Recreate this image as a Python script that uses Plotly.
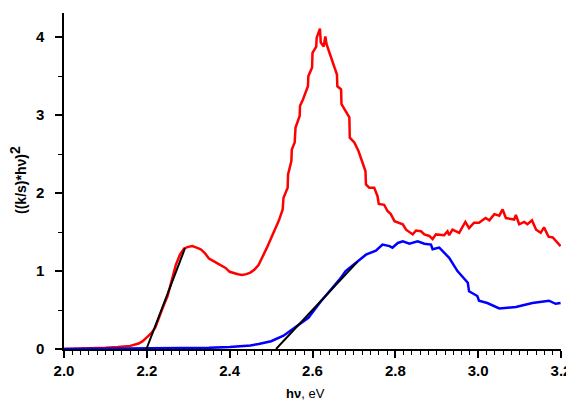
import plotly.graph_objects as go

# Red spectrum
red_x = [2.00, 2.05, 2.10, 2.13, 2.16, 2.18, 2.19, 2.20, 2.21, 2.22, 2.23, 2.24, 2.25, 2.26, 2.27, 2.28,
         2.29, 2.30, 2.31, 2.32, 2.33, 2.34, 2.35, 2.36, 2.37, 2.38, 2.39, 2.40, 2.41, 2.42, 2.43, 2.44,
         2.45, 2.46, 2.47, 2.48, 2.49, 2.50, 2.51, 2.519, 2.528, 2.530, 2.540, 2.541, 2.549, 2.550, 2.557,
         2.559, 2.569, 2.570, 2.577, 2.589, 2.590, 2.599, 2.600, 2.609, 2.610, 2.618, 2.620, 2.627, 2.631,
         2.634, 2.641, 2.648, 2.653, 2.659, 2.660, 2.669, 2.670, 2.680, 2.689, 2.690, 2.701, 2.711, 2.719,
         2.728, 2.729, 2.737, 2.749, 2.757, 2.760, 2.773, 2.781, 2.789, 2.798, 2.810, 2.818, 2.826, 2.842,
         2.850, 2.862, 2.870, 2.882, 2.890, 2.898, 2.918, 2.926, 2.930, 2.938, 2.954, 2.969, 2.978, 2.990,
         3.002, 3.018, 3.027, 3.039, 3.051, 3.059, 3.067, 3.087, 3.091, 3.099, 3.111, 3.119, 3.130, 3.140,
         3.151, 3.159, 3.170, 3.180, 3.199]
red_y = [0.00, 0.005, 0.015, 0.025, 0.04, 0.07, 0.10, 0.15, 0.20, 0.27, 0.42, 0.55, 0.68, 0.87, 1.08, 1.21,
         1.29, 1.31, 1.32, 1.30, 1.28, 1.23, 1.16, 1.13, 1.10, 1.07, 1.04, 0.99, 0.97, 0.96, 0.95, 0.96,
         0.98, 1.02, 1.08, 1.18, 1.30, 1.42, 1.53, 1.65, 1.79, 1.94, 2.07, 2.24, 2.41, 2.56, 2.65,
         2.84, 2.99, 3.12, 3.20, 3.37, 3.50, 3.61, 3.80, 3.88, 3.99, 4.11, 3.93, 3.88, 4.01,
         3.91, 3.80, 3.69, 3.63, 3.52, 3.37, 3.33, 3.14, 3.05, 2.97, 2.71, 2.65, 2.54, 2.41,
         2.28, 2.11, 2.07, 2.07, 1.96, 1.86, 1.85, 1.77, 1.73, 1.64, 1.62, 1.60, 1.53, 1.47,
         1.52, 1.51, 1.47, 1.45, 1.41, 1.47, 1.46, 1.51, 1.46, 1.53, 1.49, 1.63, 1.55, 1.62,
         1.62, 1.68, 1.65, 1.73, 1.71, 1.79, 1.68, 1.66, 1.72, 1.60, 1.63, 1.60, 1.65, 1.53,
         1.49, 1.56, 1.44, 1.43, 1.32]

# Blue spectrum
blue_x = [2.00, 2.10, 2.20, 2.30, 2.35, 2.40, 2.43, 2.45, 2.47, 2.50, 2.53, 2.545, 2.56, 2.59, 2.62, 2.65,
          2.665, 2.68, 2.705, 2.729, 2.753, 2.769, 2.786, 2.793, 2.806, 2.818, 2.834, 2.854, 2.870, 2.886,
          2.890, 2.906, 2.930, 2.950, 2.975, 2.978, 2.998, 3.002, 3.022, 3.051, 3.091, 3.131, 3.171,
          3.187, 3.199]
blue_y = [0.0, 0.002, 0.004, 0.01, 0.015, 0.025, 0.035, 0.045, 0.065, 0.10, 0.17, 0.23, 0.29, 0.40, 0.61, 0.79,
          0.89, 1.00, 1.11, 1.21, 1.26, 1.34, 1.32, 1.30, 1.36, 1.38, 1.35, 1.38, 1.35, 1.34,
          1.28, 1.30, 1.17, 1.00, 0.85, 0.74, 0.68, 0.62, 0.59, 0.52, 0.54, 0.59, 0.62,
          0.58, 0.59]

# Tangent (Tauc) lines
tan_red_x = [2.199, 2.292]
tan_red_y = [0.0, 1.29]
tan_blue_x = [2.512, 2.709]
tan_blue_y = [0.0, 1.12]

x_ticks = [2.0, 2.2, 2.4, 2.6, 2.8, 3.0, 3.2]
x_tick_labels = ["2.0", "2.2", "2.4", "2.6", "2.8", "3.0", "3.2"]
y_ticks = [0, 1, 2, 3, 4]
y_tick_labels = ["0", "1", "2", "3", "4"]
x_title = "<b>hν</b>, eV"
y_title = "<b>((k/s)*hν)<sup><span style='font-size:14px'>2</span></sup></b>"

fig = go.Figure()
fig.add_trace(go.Scatter(x=red_x, y=red_y, mode="lines", line=dict(color="#ff0000", width=2.5)))
fig.add_trace(go.Scatter(x=blue_x, y=blue_y, mode="lines", line=dict(color="#0000ff", width=2.5)))
fig.add_trace(go.Scatter(x=tan_red_x, y=tan_red_y, mode="lines", line=dict(color="#000000", width=2)))
fig.add_trace(go.Scatter(x=tan_blue_x, y=tan_blue_y, mode="lines", line=dict(color="#000000", width=2)))

font_fam = "Liberation Sans, Arial, sans-serif"
fig.update_layout(
    width=566, height=393,
    margin=dict(l=56, r=13, t=5, b=52),
    paper_bgcolor="white", plot_bgcolor="white",
    showlegend=False,
    hovermode=False,
    font=dict(family=font_fam, color="black"),
    xaxis=dict(
        range=[2.0, 3.2], tickvals=x_ticks,
        ticktext=["<b>%s</b>" % t for t in x_tick_labels],
        tickfont=dict(size=15, family=font_fam),
        showline=True, linecolor="black", linewidth=1.5,
        ticks="outside", ticklen=7, tickwidth=1.5, tickcolor="black",
        minor=dict(dtick=0.02, ticks="outside", ticklen=4, tickwidth=1, tickcolor="black"),
        showgrid=False, zeroline=False, automargin=False,
    ),
    yaxis=dict(
        range=[0, 4.31], tickvals=y_ticks,
        ticktext=["<b>%s</b>" % t for t in y_tick_labels],
        tickfont=dict(size=15, family=font_fam),
        showline=True, linecolor="black", linewidth=1.5,
        ticks="outside", ticklen=7, tickwidth=1.5, tickcolor="black",
        ticklabelstandoff=8,
        minor=dict(dtick=0.5, ticks="outside", ticklen=4, tickwidth=1, tickcolor="black"),
        showgrid=False, zeroline=False, automargin=False,
    ),
    annotations=[
        dict(text=x_title, xref="paper", yref="paper", x=0.485, y=-0.131,
             xanchor="center", yanchor="middle", showarrow=False,
             font=dict(size=13, family=font_fam, color="black")),
        dict(text=y_title, xref="paper", yref="paper", x=-0.0926, y=0.503,
             xanchor="center", yanchor="middle", showarrow=False, textangle=-90,
             font=dict(size=14, family=font_fam, color="black")),
    ],
)

fig.write_html("out.html")
